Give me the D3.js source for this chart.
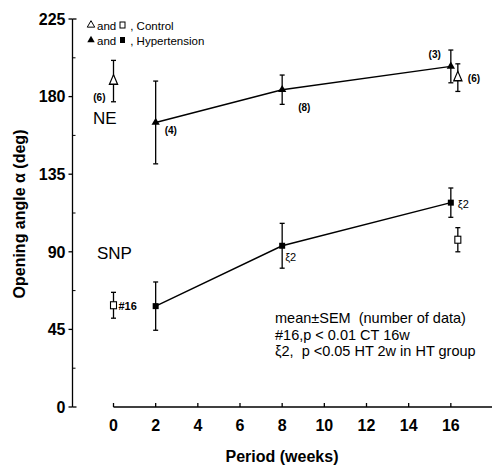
<!DOCTYPE html>
<html>
<head>
<meta charset="utf-8">
<script src="https://cdn.jsdelivr.net/npm/d3@7"></script>
<style>
  body { margin: 0; background: #fff; }
  svg { font-family: Arial, "Liberation Sans", sans-serif; }
  text { white-space: pre; }
</style>
</head>
<body>
<svg width="492" height="466"></svg>
<script>
// data
var xTicks = [0, 2, 4, 6, 8, 10, 12, 14, 16, 18],
    xTickLabels = ["0", "2", "4", "6", "8", "10", "12", "14", "16", ""],
    yTicks = [0, 45, 90, 135, 180, 225],
    yMinor = [22.5, 67.5, 112.5, 157.5, 202.5];

// NE, hypertension (filled triangles)
var neHtWeeks = [2, 8, 16],
    neHtMean = [165, 184, 197.5],
    neHtSem = [24, 8.5, 9.5],
    neHtN = ["(4)", "(8)", "(3)"];
// NE, control (open triangles)
var neCtWeeks = [0, 16],
    neCtMean = [189, 191],
    neCtSem = [12, 8],
    neCtN = ["(6)", "(6)"];
// SNP, hypertension (filled squares)
var snpHtWeeks = [2, 8, 16],
    snpHtMean = [58.5, 93.5, 118.5],
    snpHtSem = [14, 13, 8.5],
    snpHtMark = ["", "\u03BE2", "\u03BE2"];
// SNP, control (open squares)
var snpCtWeeks = [0, 16],
    snpCtMean = [59, 97],
    snpCtSem = [7.5, 7],
    snpCtMark = ["#16", ""];

var svg = d3.select("svg");

var x = d3.scaleLinear().domain([0, 18]).range([113.5, 493]),
    y = d3.scaleLinear().domain([0, 225]).range([407, 19]);

var ctShift = 7; // control points drawn just right of week 16

function zip(w, m, s) {
  return w.map(function(d, i) { return {w: d, m: m[i], s: s[i], i: i}; });
}

// y axis
var gy = svg.append("g").attr("transform", "translate(72.5,0)");
gy.append("line").attr("y1", y(0)).attr("y2", y(225)).attr("stroke", "#000").attr("stroke-width", 1.3);
gy.selectAll(".maj").data(yTicks).enter().append("line")
    .attr("x1", -4).attr("x2", 0)
    .attr("y1", function(d) { return y(d); }).attr("y2", function(d) { return y(d); })
    .attr("stroke", "#000").attr("stroke-width", 1.3);
gy.selectAll(".end").data([0, 225]).enter().append("line")
    .attr("x1", 0).attr("x2", 4)
    .attr("y1", function(d) { return y(d); }).attr("y2", function(d) { return y(d); })
    .attr("stroke", "#000").attr("stroke-width", 1.3);
gy.selectAll(".min").data(yMinor).enter().append("line")
    .attr("x1", 0).attr("x2", 3)
    .attr("y1", function(d) { return y(d); }).attr("y2", function(d) { return y(d); })
    .attr("stroke", "#000").attr("stroke-width", 1);
gy.selectAll(".lab").data(yTicks).enter().append("text")
    .attr("x", -7).attr("y", function(d) { return y(d); })
    .attr("dy", "0.36em").attr("text-anchor", "end")
    .attr("font-size", 16).attr("font-weight", "bold")
    .text(function(d) { return d; });

// x axis (ticks pointing up)
var gx = svg.append("g").attr("transform", "translate(0," + y(0) + ")");
gx.append("line").attr("x1", x(0)).attr("x2", x(18)).attr("stroke", "#000").attr("stroke-width", 1.3);
gx.selectAll(".tk").data(xTicks).enter().append("line")
    .attr("x1", function(d) { return x(d); }).attr("x2", function(d) { return x(d); })
    .attr("y1", 0).attr("y2", -4)
    .attr("stroke", "#000").attr("stroke-width", 1.3);
gx.selectAll(".lab").data(xTicks).enter().append("text")
    .attr("x", function(d) { return x(d); }).attr("y", 24)
    .attr("text-anchor", "middle")
    .attr("font-size", 16).attr("font-weight", "bold")
    .text(function(d, i) { return xTickLabels[i]; });

// axis titles
svg.append("text")
    .attr("x", 282).attr("y", 462)
    .attr("text-anchor", "middle")
    .attr("font-size", 16).attr("font-weight", "bold")
    .text("Period (weeks)");
svg.append("text")
    .attr("transform", "translate(25,214) rotate(-90)")
    .attr("text-anchor", "middle")
    .attr("font-size", 16).attr("font-weight", "bold")
    .text("Opening angle \u03B1 (deg)");

// hypertension lines
var line = d3.line().x(function(d) { return x(d.w); }).y(function(d) { return y(d.m); });
svg.append("path").datum(zip(neHtWeeks, neHtMean, neHtSem))
    .attr("d", line).attr("fill", "none").attr("stroke", "#000").attr("stroke-width", 1.4);
svg.append("path").datum(zip(snpHtWeeks, snpHtMean, snpHtSem))
    .attr("d", line).attr("fill", "none").attr("stroke", "#000").attr("stroke-width", 1.4);

function errorBars(data) {
  var g = svg.append("g");
  var gg = g.selectAll("g").data(data).enter().append("g")
      .attr("transform", function(d) { return "translate(" + x(d.w) + ",0)"; });
  gg.append("line")
      .attr("y1", function(d) { return y(d.m + d.s); })
      .attr("y2", function(d) { return y(d.m - d.s); })
      .attr("stroke", "#000").attr("stroke-width", 1.3);
  [1, -1].forEach(function(sg) {
    gg.append("line").attr("x1", -2.5).attr("x2", 2.5)
        .attr("y1", function(d) { return y(d.m + sg * d.s); })
        .attr("y2", function(d) { return y(d.m + sg * d.s); })
        .attr("stroke", "#000").attr("stroke-width", 1.3);
  });
  return gg;
}

var tri = d3.symbol().type(d3.symbolTriangle);
function shiftCt(d) { return "translate(" + (x(d.w) + (d.w > 0 ? ctShift : 0)) + ",0)"; }

// NE hypertension
var ne1 = errorBars(zip(neHtWeeks, neHtMean, neHtSem));
ne1.append("path").attr("d", tri.size(30)())
    .attr("transform", function(d) { return "translate(0," + y(d.m) + ")"; })
    .attr("fill", "#000");
// NE control
var ne0 = errorBars(zip(neCtWeeks, neCtMean, neCtSem)).attr("transform", shiftCt);
ne0.append("path").attr("d", tri.size(40)())
    .attr("transform", function(d) { return "translate(0," + y(d.m) + ") scale(0.85,1.15)"; })
    .attr("fill", "#fff").attr("stroke", "#000").attr("stroke-width", 1.3);

// SNP hypertension
var snp1 = errorBars(zip(snpHtWeeks, snpHtMean, snpHtSem));
snp1.append("rect").attr("x", -3).attr("width", 6).attr("height", 6)
    .attr("y", function(d) { return y(d.m) - 3; })
    .attr("fill", "#000");
// SNP control
var snp0 = errorBars(zip(snpCtWeeks, snpCtMean, snpCtSem)).attr("transform", shiftCt);
snp0.append("rect").attr("x", -3).attr("width", 6).attr("height", 7)
    .attr("y", function(d) { return y(d.m) - 3.5; })
    .attr("fill", "#fff").attr("stroke", "#000").attr("stroke-width", 1.1);

// n labels
var nOff1 = [[9, 12, "start"], [16, 21, "start"], [-10, -8, "end"]];
ne1.append("text")
    .attr("x", function(d) { return nOff1[d.i][0]; })
    .attr("y", function(d) { return y(d.m) + nOff1[d.i][1]; })
    .attr("text-anchor", function(d) { return nOff1[d.i][2]; })
    .attr("font-size", 10).attr("font-weight", "bold")
    .text(function(d) { return neHtN[d.i]; });
var nOff0 = [[-8, 20, "end"], [10, 4, "start"]];
ne0.append("text")
    .attr("x", function(d) { return nOff0[d.i][0]; })
    .attr("y", function(d) { return y(d.m) + nOff0[d.i][1]; })
    .attr("text-anchor", function(d) { return nOff0[d.i][2]; })
    .attr("font-size", 10).attr("font-weight", "bold")
    .text(function(d) { return neCtN[d.i]; });

// significance marks
var mOff1 = [[0, 0], [3, 15], [7, 5]];
snp1.append("text")
    .attr("x", function(d) { return mOff1[d.i][0]; })
    .attr("y", function(d) { return y(d.m) + mOff1[d.i][1]; })
    .attr("font-size", 11)
    .text(function(d) { return snpHtMark[d.i]; });
snp0.append("text")
    .attr("x", 5).attr("y", function(d) { return y(d.m) + 5; })
    .attr("font-size", 11).attr("font-weight", "bold")
    .text(function(d) { return snpCtMark[d.i]; });

// group labels
svg.append("text").attr("x", 93).attr("y", 124).attr("font-size", 17).text("NE");
svg.append("text").attr("x", 97).attr("y", 259).attr("font-size", 17).text("SNP");

// legend
var leg = svg.append("g").attr("font-size", 11.5);
leg.append("path").attr("d", tri.size(24)()).attr("transform", "translate(91,25)")
    .attr("fill", "#fff").attr("stroke", "#000").attr("stroke-width", 1);
leg.append("text").attr("x", 97).attr("y", 30).text("and");
leg.append("rect").attr("x", 120).attr("y", 22).attr("width", 5).attr("height", 6)
    .attr("fill", "#fff").attr("stroke", "#000").attr("stroke-width", 1);
leg.append("text").attr("x", 127).attr("y", 30).text(" , Control");
leg.append("path").attr("d", tri.size(24)()).attr("transform", "translate(91,40)").attr("fill", "#000");
leg.append("text").attr("x", 97).attr("y", 45).text("and");
leg.append("rect").attr("x", 120).attr("y", 37).attr("width", 5).attr("height", 6).attr("fill", "#000");
leg.append("text").attr("x", 127).attr("y", 45).text(" , Hypertension");

// notes
var notes = ["mean\u00B1SEM  (number of data)", "#16,p < 0.01 CT 16w", "\u03BE2,  p <0.05 HT 2w in HT group"];
svg.append("g").attr("font-size", 14.5).selectAll("text").data(notes).enter().append("text")
    .attr("x", 275).attr("y", function(d, i) { return 323 + i * 16.5; })
    .text(function(d) { return d; });
</script>
</body>
</html>
